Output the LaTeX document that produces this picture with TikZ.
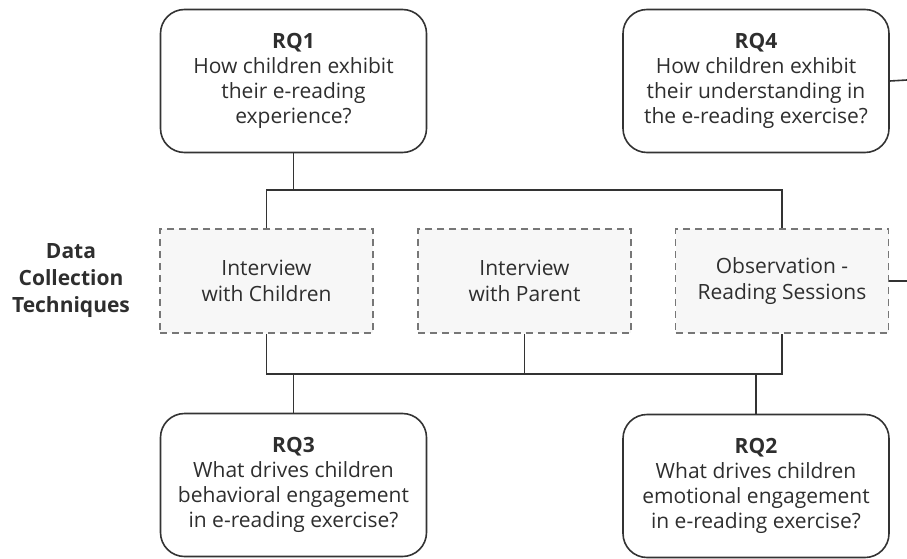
\documentclass[tikz,border=0pt]{standalone}
\usepackage{fontspec}
\setmainfont{Open Sans}
\begin{document}
\begin{tikzpicture}[x=1pt,y=-1pt,
  every node/.style={text=txt},
  rqbox/.style={draw=edge,line width=1.6pt,rounded corners=24pt,minimum width=266pt,minimum height=143pt,
    inner sep=0pt,align=center,font=\fontsize{21}{25}\selectfont},
  techbox/.style={draw=dashgray,dash pattern=on 7pt off 5pt,line width=1.4pt,fill=boxfill,minimum width=213pt,
    minimum height=104pt,inner sep=0pt,align=center,font=\fontsize{21}{26}\selectfont},
  link/.style={draw=edge,line width=1.6pt}]
\definecolor{txt}{HTML}{2E2E2E}
\definecolor{edge}{HTML}{333333}
\definecolor{dashgray}{HTML}{777777}
\definecolor{boxfill}{HTML}{F7F7F7}
\useasboundingbox (0,0) rectangle (907,559);

% research questions
\node[rqbox] (rq1) at (293.5,81) {\textbf{RQ1}\\How children exhibit\\their e-reading\\experience?};
\node[rqbox] (rq4) at (756,81) {\textbf{RQ4}\\How children exhibit\\their understanding in\\the e-reading exercise?};
\node[rqbox] (rq3) at (293.5,485) {\textbf{RQ3}\\What drives children\\behavioral engagement\\in e-reading exercise?};
\node[rqbox] (rq2) at (756,486) {\textbf{RQ2}\\What drives children\\emotional engagement\\in e-reading exercise?};

% data collection techniques
\node[align=center,font=\bfseries\fontsize{21}{27}\selectfont] (dct) at (71,281) {Data\\Collection\\Techniques};
\node[techbox] (ic) at (266.5,281) {Interview\\with Children};
\node[techbox] (ip) at (524.5,281) {Interview\\with Parent};
\node[techbox] (obs) at (782,281) {Observation -\\Reading Sessions};

% bus lines
\coordinate (bt) at (0,190);
\coordinate (bb) at (0,374);
\coordinate (e4) at (907,80);
\coordinate (eo) at (907,281);

\draw[link] (rq1.south) -- (rq1.south |- bt);
\draw[link] (ic.north) -- (ic.north |- bt) -- (obs.north |- bt) -- (obs.north);
\draw[link] (ic.south) -- (ic.south |- bb) -- (obs.south |- bb) -- (obs.south);
\draw[link] (ip.south) -- (ip.south |- bb);
\draw[link] (rq3.north) -- (rq3.north |- bb);
\draw[link] (rq2.north) -- (rq2.north |- bb);
\draw[link] (rq4.east) -- (e4);
\draw[link] (obs.east) -- (eo);
\end{tikzpicture}
\end{document}
